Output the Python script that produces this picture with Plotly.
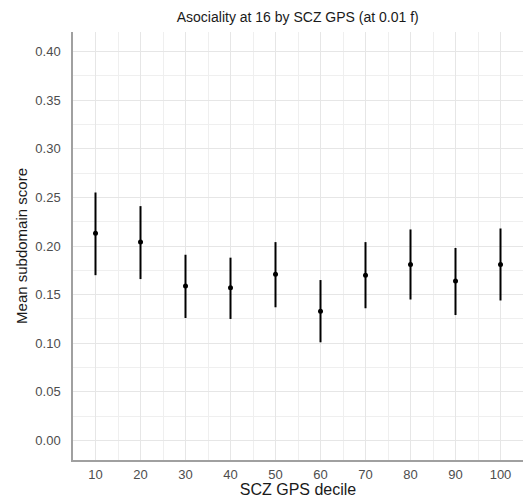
import plotly.graph_objects as go

# Decile bins of the SCZ genome-wide polygenic score
deciles = [10, 20, 30, 40, 50, 60, 70, 80, 90, 100]
# Mean asociality subdomain score per decile with 95% CI bounds
mean_score = [0.213, 0.204, 0.159, 0.157, 0.171, 0.133, 0.170, 0.181, 0.164, 0.181]
ci_lower = [0.170, 0.166, 0.126, 0.125, 0.137, 0.101, 0.136, 0.145, 0.129, 0.144]
ci_upper = [0.255, 0.241, 0.191, 0.188, 0.204, 0.165, 0.204, 0.217, 0.198, 0.218]

y_ticks = [0.0, 0.05, 0.10, 0.15, 0.20, 0.25, 0.30, 0.35, 0.40]

err_plus = [u - m for u, m in zip(ci_upper, mean_score)]
err_minus = [m - l for m, l in zip(mean_score, ci_lower)]

fig = go.Figure()
fig.add_trace(go.Scatter(
    x=deciles, y=mean_score, mode="markers",
    marker=dict(color="black", size=5),
    error_y=dict(type="data", symmetric=False, array=err_plus, arrayminus=err_minus,
                 color="black", thickness=2, width=0),
    showlegend=False,
))

font_family = "Liberation Sans, Arial, sans-serif"
fig.update_layout(
    width=527, height=498,
    margin=dict(l=73, r=4, t=32, b=35),
    plot_bgcolor="white", paper_bgcolor="white",
    font=dict(family=font_family, color="#4d4d4d", size=13),
    title=dict(text="Asociality at 16 by SCZ GPS (at 0.01 f)", x=0.565, xanchor="center",
               y=0.966, yanchor="middle", font=dict(size=14, color="#1a1a1a")),
    xaxis=dict(
        range=[5, 105], tickmode="array", tickvals=deciles,
        ticktext=[str(d) for d in deciles],
        showgrid=True, gridcolor="#e6e6e6", gridwidth=1.2,
        minor=dict(showgrid=True, gridcolor="#efefef", gridwidth=0.8, dtick=5, tick0=5),
        showline=True, linecolor="#a0a0a0", linewidth=1.5,
        zeroline=False, ticks="", ticklabelstandoff=2,
        title=dict(text="SCZ GPS decile", font=dict(size=16, color="#1a1a1a"), standoff=0),
    ),
    yaxis=dict(
        range=[-0.02, 0.42], tickmode="array", tickvals=y_ticks,
        ticktext=[f"{v:.2f}" for v in y_ticks],
        showgrid=True, gridcolor="#e6e6e6", gridwidth=1.2,
        minor=dict(showgrid=True, gridcolor="#efefef", gridwidth=0.8, dtick=0.025, tick0=0),
        showline=True, linecolor="#a0a0a0", linewidth=1.5,
        zeroline=False, ticks="", ticklabelstandoff=8,
        title=dict(text="Mean subdomain score", font=dict(size=15, color="#1a1a1a"), standoff=4),
    ),
)

fig.write_html("out.html")
